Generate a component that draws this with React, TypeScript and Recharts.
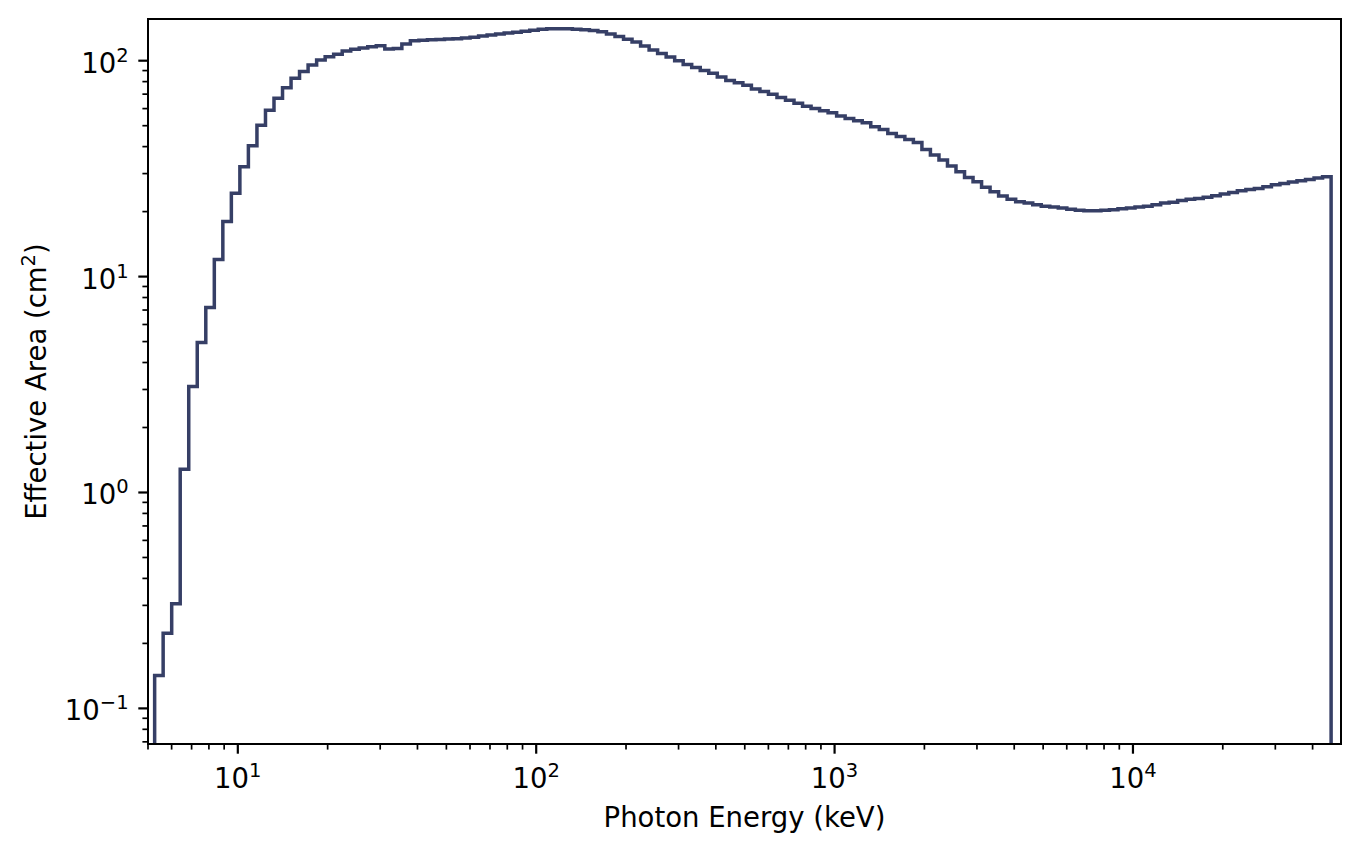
import React from 'react'
import { LineChart, Line, XAxis, YAxis, ReferenceArea } from 'recharts'

// bin edges (keV), ~35 log bins per decade
const ENERGY_EDGES_KEV = [
  5.263, 5.62, 6.003, 6.411, 6.847, 7.312, 7.81, 8.341, 8.908, 9.513,
  10.16, 10.85, 11.59, 12.38, 13.22, 14.12, 15.08, 16.1, 17.2, 18.37,
  19.62, 20.95, 22.38, 23.9, 25.52, 27.26, 29.11, 31.09, 33.2, 35.46,
  37.87, 40.45, 43.2, 46.14, 49.28,
  52.63, 56.2, 60.03, 64.11, 68.47, 73.12, 78.1, 83.41, 89.08, 95.13,
  101.6, 108.5, 115.9, 123.8, 132.2, 141.2, 150.8, 161, 172, 183.7,
  196.2, 209.5, 223.8, 239, 255.2, 272.6, 291.1, 310.9, 332, 354.6,
  378.7, 404.5, 432, 461.4, 492.8,
  526.3, 562, 600.3, 641.1, 684.7, 731.2, 781, 834.1, 890.8, 951.3,
  1016, 1085, 1159, 1238, 1322, 1412, 1508, 1610, 1720, 1837,
  1962, 2095, 2238, 2390, 2552, 2726, 2911, 3109, 3320, 3546,
  3787, 4045, 4320, 4614, 4928,
  5263, 5620, 6003, 6411, 6847, 7312, 7810, 8341, 8908, 9513,
  10160, 10850, 11590, 12380, 13220, 14120, 15080, 16100, 17200, 18370,
  19620, 20950, 22380, 23900, 25520, 27260, 29110, 31090, 33200, 35460,
  37870, 40450, 43200, 46140,
]

// effective area per bin (cm^2)
const EFFECTIVE_AREA_CM2 = [
  0.142, 0.223, 0.305, 1.28, 3.1, 4.95, 7.2, 12.0, 18.0, 24.3,
  32.3, 40.4, 50.2, 59, 67, 75, 83, 89, 95.5, 100.7,
  104.4, 107, 111, 113, 114.5, 116, 117.3, 113.3, 114, 119.5,
  123.7, 124.5, 125, 125.5, 126, 126.5, 127.5, 128.5, 130, 131.5,
  133, 134.5, 135.5, 137, 138.5, 140, 140.5, 140.5, 140.5, 140,
  139, 138, 136.3, 133, 129.5, 125.8, 122, 117, 112, 108,
  104, 100, 96, 93, 90, 87.5, 84, 81, 79, 77,
  74, 72, 70, 67.5, 65.5, 63.5, 61.5, 60, 58.7, 57.4,
  55.5, 54, 52.7, 51.6, 49.5, 48, 46, 44.5, 43.2, 41.8,
  38.8, 36.6, 34.7, 32.5, 30.6, 28.8, 27.5, 25.9, 24.7, 23.6,
  22.8, 22.2, 21.9, 21.5, 21.2, 21.0, 20.8, 20.5, 20.3, 20.2,
  20.2, 20.3, 20.4, 20.6, 20.8, 21.0, 21.2, 21.5, 21.9, 22.1,
  22.5, 22.8, 23.0, 23.3, 23.7, 24.1, 24.5, 25.0, 25.3, 25.6,
  26.1, 26.6, 27.0, 27.4, 27.8, 28.2, 28.6, 29.0,
]

const X_MAJOR = [10, 100, 1000, 10000]
const X_MINOR = [
  5, 6, 7, 8, 9,
  20, 30, 40, 50, 60, 70, 80, 90,
  200, 300, 400, 500, 600, 700, 800, 900,
  2000, 3000, 4000, 5000, 6000, 7000, 8000, 9000,
  20000, 30000, 40000,
]
const Y_MAJOR = [0.1, 1, 10, 100]
const Y_MINOR = [
  0.07, 0.08, 0.09,
  0.2, 0.3, 0.4, 0.5, 0.6, 0.7, 0.8, 0.9,
  2, 3, 4, 5, 6, 7, 8, 9,
  20, 30, 40, 50, 60, 70, 80, 90,
]

const X_DOMAIN = [5, 49800]
const Y_DOMAIN = [0.0684, 156]
const FLOOR = 0.01 // below the axis, so the step drops off the bottom

const FONT = '"DejaVu Sans", sans-serif'
const FS = 27.5
const LINE_COLOR = '#363f66'

const nBins = EFFECTIVE_AREA_CM2.length
const data = [
  { energy: ENERGY_EDGES_KEV[0], area: FLOOR },
  ...EFFECTIVE_AREA_CM2.map((a, i) => ({ energy: ENERGY_EDGES_KEV[i], area: a })),
  { energy: ENERGY_EDGES_KEV[nBins], area: EFFECTIVE_AREA_CM2[nBins - 1] },
  { energy: ENERGY_EDGES_KEV[nBins], area: FLOOR },
]

const expOf = (v: number) => {
  const e = Math.round(Math.log10(v))
  return e < 0 ? '\u2212' + Math.abs(e) : String(e)
}

const XTick = (props: any) => {
  const { x, y, payload } = props
  const v = payload.value
  const major = X_MAJOR.includes(v)
  return (
    <g>
      <line x1={x} y1={y} x2={x} y2={y + (major ? 9.7 : 5.6)} stroke="#000" strokeWidth={major ? 2.2 : 1.7} />
      {major && (
        <text x={x} y={y + 44} textAnchor="middle" fontFamily={FONT} fontSize={FS} fill="#000">
          10<tspan dy={-11} fontSize={19.5}>{expOf(v)}</tspan>
        </text>
      )}
    </g>
  )
}

const YTick = (props: any) => {
  const { x, y, payload } = props
  const v = payload.value
  const major = Y_MAJOR.includes(v)
  return (
    <g>
      <line x1={x} y1={y} x2={x - (major ? 9.7 : 5.6)} y2={y} stroke="#000" strokeWidth={major ? 2.2 : 1.7} />
      {major && (
        <text x={x - 19.4} y={y + 12} textAnchor="end" fontFamily={FONT} fontSize={FS} fill="#000">
          10<tspan dy={-11} fontSize={19.5}>{expOf(v)}</tspan>
        </text>
      )}
    </g>
  )
}

export default function App() {
  return (
    <div style={{ position: 'absolute', left: 0, top: 0, background: '#fff' }}>
      <LineChart width={1361} height={852} data={data} margin={{ top: 19, right: 20, left: 0, bottom: 0 }}>
        <XAxis
          dataKey="energy"
          type="number"
          scale="log"
          domain={X_DOMAIN}
          allowDataOverflow
          ticks={[...X_MINOR, ...X_MAJOR]}
          interval={0}
          tickSize={0}
          tickMargin={0}
          tickLine={false}
          tick={<XTick />}
          height={108}
          axisLine={{ stroke: '#000', strokeWidth: 2 }}
          label={{
            content: (p: any) => (
              <text
                x={p.viewBox.x + p.viewBox.width / 2}
                y={p.viewBox.y + 83}
                textAnchor="middle"
                fontFamily={FONT}
                fontSize={FS}
                fill="#000"
              >
                Photon Energy (keV)
              </text>
            ),
          }}
        />
        <YAxis
          type="number"
          scale="log"
          domain={Y_DOMAIN}
          allowDataOverflow
          ticks={[...Y_MINOR, ...Y_MAJOR]}
          interval={0}
          tickSize={0}
          tickMargin={0}
          tickLine={false}
          tick={<YTick />}
          width={148}
          axisLine={{ stroke: '#000', strokeWidth: 2 }}
          label={{
            content: (p: any) => {
              const cx = 46
              const cy = p.viewBox.y + p.viewBox.height / 2
              return (
                <text
                  x={cx}
                  y={cy}
                  transform={`rotate(-90 ${cx} ${cy})`}
                  textAnchor="middle"
                  fontFamily={FONT}
                  fontSize={FS}
                  fill="#000"
                >
                  Effective Area (cm<tspan dy={-11} fontSize={19.5}>2</tspan>
                  <tspan dy={11}>)</tspan>
                </text>
              )
            },
          }}
        />
        {/* full box frame like matplotlib spines */}
        <ReferenceArea
          x1={X_DOMAIN[0]}
          x2={X_DOMAIN[1]}
          y1={Y_DOMAIN[0]}
          y2={Y_DOMAIN[1]}
          fill="none"
          stroke="#000"
          strokeWidth={2}
          ifOverflow="visible"
        />
        <Line
          type="stepAfter"
          dataKey="area"
          stroke={LINE_COLOR}
          strokeWidth={3.5}
          dot={false}
          isAnimationActive={false}
        />
      </LineChart>
    </div>
  )
}
